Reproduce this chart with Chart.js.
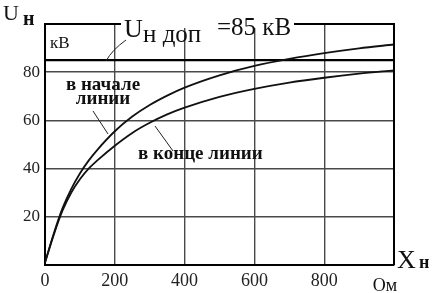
<!DOCTYPE html>
<html><head><meta charset="utf-8">
<script src="https://cdn.jsdelivr.net/npm/chart.js@4"></script>
<style>html,body{margin:0;padding:0;background:#fff}#w{width:435px;height:293px}</style>
</head><body><div id="w"><canvas id="c" width="435" height="293"></canvas></div>
<script>
const xValues = [0, 25, 50, 75, 100, 125, 150, 200, 250, 300, 350, 400, 500, 600, 700, 800, 900, 1000];
const startOfLine = [1, 13, 23.5, 31.5, 38, 43.3, 47.8, 55.5, 61.6, 66.4, 70.3, 73.6, 78.7, 82.6, 85.5, 87.9, 89.9, 91.5];
const endOfLine = [1, 12.5, 22.5, 30, 35.6, 40, 43.4, 49.5, 54.8, 59, 62.5, 65.3, 69.8, 73.1, 75.7, 77.7, 79.4, 80.8];
const uAllowed = 85;
const xTickValues = [0, 200, 400, 600, 800, 1000];
const xTickLabels = ['0', '200', '400', '600', '800', ''];
const yTickValues = [0, 20, 40, 60, 80, 100];
const yTickLabels = ['', '20', '40', '60', '80', ''];

const pts = arr => xValues.map((x, i) => ({x: x, y: arr[i]}));
const SERIF = '"Liberation Serif", "DejaVu Serif", serif';

const annot = {
  id: 'annot',
  afterDraw(chart) {
    const c = chart.ctx;
    c.save();
    c.fillStyle = '#fff';
    c.fillRect(121, 20, 173, 8);
    c.fillStyle = '#111';
    c.strokeStyle = '#222';
    c.lineWidth = 1;
    c.textBaseline = 'alphabetic';
    c.textAlign = 'left';
    c.font = '22px ' + SERIF; c.fillText('U', 3, 20);
    c.font = 'bold 20px ' + SERIF; c.fillText('н', 23, 25);
    c.font = '17px ' + SERIF; c.fillText('кВ', 50, 48);
    c.font = '26px ' + SERIF; c.fillText('U', 124, 37);
    c.font = '25px ' + SERIF; c.fillText('н доп', 143, 42);
    c.font = '25px ' + SERIF; c.fillText('=' + uAllowed + ' кВ', 217, 35);
    c.beginPath(); c.moveTo(126, 40); c.quadraticCurveTo(112, 50, 106, 61); c.stroke();
    c.textAlign = 'center';
    c.font = 'bold 19px ' + SERIF;
    c.fillText('в начале', 103, 90);
    c.fillText('линии', 103, 104);
    c.beginPath(); c.moveTo(93, 111); c.lineTo(108, 134); c.stroke();
    c.textAlign = 'left';
    c.fillText('в конце линии', 138, 159);
    c.beginPath(); c.moveTo(155, 126); c.lineTo(173, 151); c.stroke();
    c.font = '26px ' + SERIF; c.fillText('X', 397, 268);
    c.font = 'bold 18px ' + SERIF; c.fillText('н', 419, 268);
    c.textAlign = 'center';
    c.font = '18px ' + SERIF; c.fillText('Ом', 385, 291);
    c.restore();
  }
};

new Chart(document.getElementById('c'), {
  type: 'scatter',
  data: {
    datasets: [
      {label: 'в начале линии', data: pts(startOfLine), showLine: true, borderColor: '#111', borderWidth: 1.8, pointRadius: 0, cubicInterpolationMode: 'monotone'},
      {label: 'в конце линии', data: pts(endOfLine), showLine: true, borderColor: '#111', borderWidth: 1.8, pointRadius: 0, cubicInterpolationMode: 'monotone'},
      {label: 'Uн доп', data: [{x: 0, y: uAllowed}, {x: 1000, y: uAllowed}], showLine: true, borderColor: '#000', borderWidth: 2.2, pointRadius: 0}
    ]
  },
  options: {
    responsive: false, animation: false, devicePixelRatio: 1,
    layout: {padding: {top: 24, right: 41, left: 0, bottom: 0}},
    plugins: {legend: {display: false}, tooltip: {enabled: false}},
    scales: {
      x: {
        type: 'linear', min: 0, max: 1000,
        afterBuildTicks: s => { s.ticks = xTickValues.map(v => ({value: v})); },
        afterFit: s => { s.height = 28; },
        ticks: {callback: (v) => xTickLabels[xTickValues.indexOf(v)] ?? '', color: '#222', font: {family: SERIF, size: 18}, padding: 5, maxRotation: 0, autoSkip: false},
        grid: {color: '#4a4a4a', lineWidth: 1.4, drawTicks: false},
        border: {color: '#000', width: 2}
      },
      y: {
        min: 0, max: 100,
        afterBuildTicks: s => { s.ticks = yTickValues.map(v => ({value: v})); },
        afterFit: s => { s.width = 45; },
        ticks: {callback: (v) => yTickLabels[yTickValues.indexOf(v)] ?? '', color: '#222', font: {family: SERIF, size: 17}, padding: 5, autoSkip: false},
        grid: {color: '#4a4a4a', lineWidth: 1.4, drawTicks: false},
        border: {color: '#000', width: 2}
      }
    }
  },
  plugins: [annot, {
    id: 'frame',
    afterDatasetsDraw(chart) {
      const a = chart.chartArea, c = chart.ctx;
      c.save(); c.strokeStyle = '#000'; c.lineWidth = 2;
      c.beginPath(); c.moveTo(a.left, a.top); c.lineTo(a.right, a.top); c.lineTo(a.right, a.bottom); c.stroke();
      c.restore();
    }
  }]
});
</script></body></html>
